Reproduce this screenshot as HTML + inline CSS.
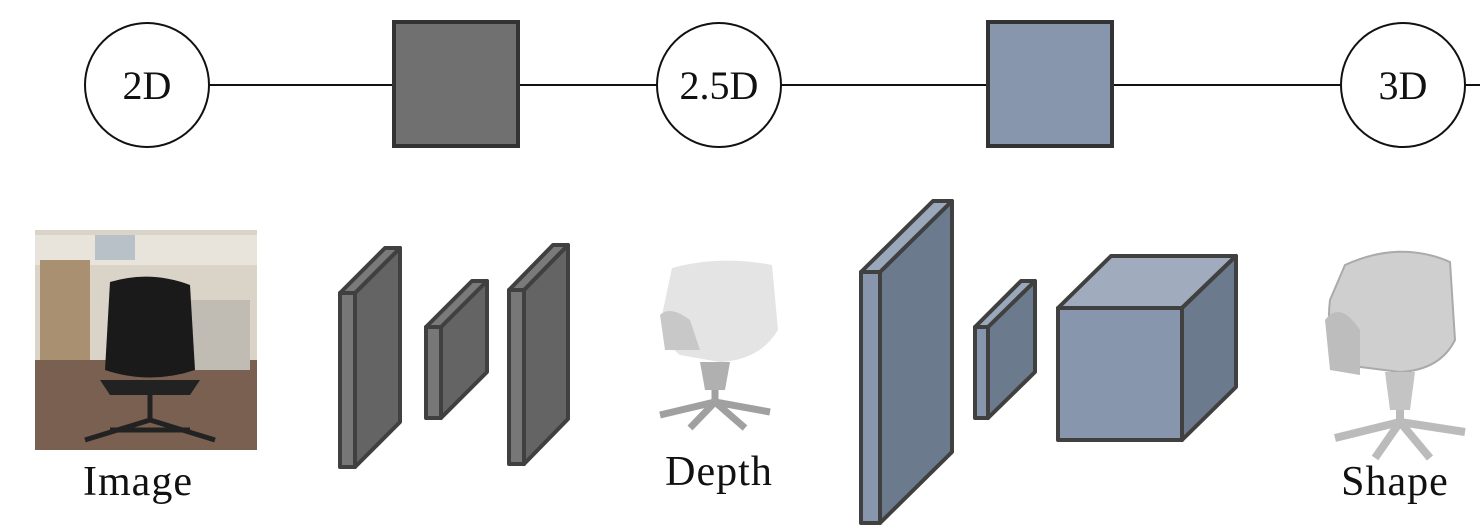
<!DOCTYPE html>
<html><head><meta charset="utf-8"><style>
html,body{margin:0;padding:0;background:#fff;}
svg{display:block;}
text{font-family:"Liberation Serif",serif;fill:#111;}
</style></head><body>
<svg width="1480" height="532" viewBox="0 0 1480 532">
<g stroke="#111" stroke-width="2">
<line x1="209" y1="85" x2="1480" y2="85"/>
</g>
<g><circle cx="147" cy="85" r="62" fill="#fff" stroke="#111" stroke-width="2"/><text x="147" y="99" font-size="40" text-anchor="middle">2D</text></g>
<rect x="394" y="22" width="124" height="124" fill="#707070" stroke="#333" stroke-width="4"/>
<g><circle cx="719" cy="85" r="62" fill="#fff" stroke="#111" stroke-width="2"/><text x="719" y="99" font-size="40" text-anchor="middle">2.5D</text></g>
<rect x="988" y="22" width="124" height="124" fill="#8796ad" stroke="#333" stroke-width="4"/>
<g><circle cx="1403" cy="85" r="62" fill="#fff" stroke="#111" stroke-width="2"/><text x="1403" y="99" font-size="40" text-anchor="middle">3D</text></g>

<g>
<rect x="35" y="230" width="222" height="220" fill="#d9d3c8"/>
<rect x="35" y="360" width="222" height="90" fill="#7a6050"/>
<rect x="35" y="235" width="222" height="30" fill="#e8e4dc"/>
<rect x="95" y="235" width="40" height="25" fill="#b8c0c8"/>
<rect x="40" y="260" width="50" height="100" fill="#a89070"/>
<rect x="190" y="300" width="60" height="70" fill="#c0bcb4"/>
<path d="M110 282 Q150 270 190 285 L195 370 Q150 385 105 370 Z" fill="#1a1a1a"/>
<path d="M100 380 L200 380 L190 395 L110 395Z" fill="#222"/>
<path d="M150 395 L150 420 M110 430 L190 430 M150 420 L85 440 M150 420 L215 440" stroke="#222" stroke-width="5"/>
</g>
<text x="138" y="495" font-size="42" letter-spacing="1" text-anchor="middle">Image</text>

<g stroke="#404040" stroke-width="4" stroke-linejoin="round">
<path d="M355 293 L400 248 L400 422 L355 467 Z" fill="#646464"/><path d="M340 293 L385 248 L400 248 L355 293 Z" fill="#7a7a7a"/><rect x="340" y="293" width="15" height="174" fill="#777"/>
<path d="M441 327 L487 281 L487 372 L441 418 Z" fill="#646464"/><path d="M426 327 L472 281 L487 281 L441 327 Z" fill="#7a7a7a"/><rect x="426" y="327" width="15" height="91" fill="#777"/>
<path d="M524 290 L568 245 L568 419 L524 464 Z" fill="#646464"/><path d="M509 290 L553 245 L568 245 L524 290 Z" fill="#7a7a7a"/><rect x="509" y="290" width="15" height="174" fill="#777"/>
</g>

<g>
<path d="M672 268 Q720 255 772 265 L778 330 Q760 360 720 362 L680 355 Q660 340 662 315 Z" fill="#e4e4e4"/>
<path d="M660 315 Q670 305 690 320 L700 350 L665 350 Z" fill="#c8c8c8"/>
<path d="M700 362 L730 362 L725 390 L705 390 Z" fill="#b0b0b0"/>
<path d="M715 390 L715 405 M660 415 L715 402 L770 412 M715 402 L690 428 M715 402 L745 428" stroke="#a0a0a0" stroke-width="7" fill="none"/>
</g>
<text x="719" y="485" font-size="42" letter-spacing="1" text-anchor="middle">Depth</text>

<g stroke="#404040" stroke-width="4" stroke-linejoin="round">
<path d="M880 272 L952 201 L952 452 L880 523 Z" fill="#6c7a8e"/><path d="M861 272 L933 201 L952 201 L880 272 Z" fill="#9aa8bc"/><rect x="861" y="272" width="19" height="251" fill="#8796ad"/>
<path d="M988 327 L1035 281 L1035 372 L988 418 Z" fill="#6c7a8e"/><path d="M975 327 L1021 281 L1035 281 L988 327 Z" fill="#9aa8bc"/><rect x="975" y="327" width="13" height="91" fill="#8796ad"/>
<path d="M1058 308 L1111 256 L1236 256 L1182 308 Z" fill="#a0abbd"/>
<path d="M1182 308 L1236 256 L1236 387 L1182 440 Z" fill="#6c7a8e"/>
<rect x="1058" y="308" width="124" height="132" fill="#8796ad"/>
</g>

<g>
<path d="M1345 265 Q1400 240 1450 262 L1455 340 Q1440 370 1400 372 L1345 365 Q1325 340 1330 300 Z" fill="#cfcfcf" stroke="#aaa" stroke-width="2"/>
<path d="M1325 320 Q1340 300 1360 330 L1360 375 L1330 370 Z" fill="#bdbdbd"/>
<path d="M1385 372 L1415 372 L1410 410 L1390 410 Z" fill="#c4c4c4"/>
<path d="M1400 410 L1400 425 M1335 438 L1400 422 L1465 432 M1400 422 L1375 458 M1400 422 L1430 458" stroke="#bbb" stroke-width="8" fill="none"/>
</g>
<text x="1395" y="495" font-size="42" letter-spacing="1" text-anchor="middle">Shape</text>
</svg>
</body></html>
